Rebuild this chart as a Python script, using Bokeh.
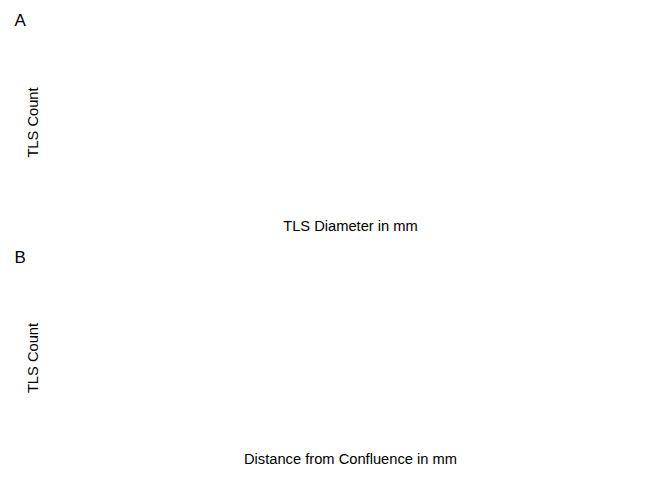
from bokeh.plotting import figure
from bokeh.layouts import column
from bokeh.models import ColumnDataSource, Range1d
from bokeh.embed import file_html
from bokeh.resources import INLINE

# Data: the reference panels show no marks, only titles and axis labels
panel_titles = ["A", "B"]
x_labels = ["TLS Diameter in mm", "Distance from Confluence in mm"]
y_labels = ["TLS Count", "TLS Count"]
tls_diameter_mm = []
tls_count_by_diameter = []
distance_from_confluence_mm = []
tls_count_by_distance = []

FONT = "Liberation Sans"

def make_panel(title, xlab, ylab, xs, ys, height, top, standoff):
    p = figure(width=672, height=height, output_backend="svg", toolbar_location=None,
               title=title, x_range=Range1d(0, 1), y_range=Range1d(0, 1),
               min_border_left=40, min_border_right=12, min_border_top=top, min_border_bottom=0)
    src = ColumnDataSource(dict(x=list(xs), top=list(ys), bottom=[0] * len(ys)))
    p.quad(left="x", right="x", top="top", bottom="bottom",
           source=src, fill_color="#595959", line_color=None)
    p.title.text_font = FONT
    p.title.text_font_style = "normal"
    p.title.text_font_size = "17px"
    p.title.text_color = "black"
    p.title.offset = -26
    p.title.standoff = standoff
    p.outline_line_color = None
    p.grid.visible = False
    p.background_fill_color = "white"
    p.border_fill_color = "white"
    for ax, lab in ((p.xaxis[0], xlab), (p.yaxis[0], ylab)):
        ax.axis_label = lab
        ax.axis_label_text_font = FONT
        ax.axis_label_text_font_style = "normal"
        ax.axis_label_text_font_size = "14.7px"
        ax.axis_label_text_color = "black"
        ax.ticker = []
        ax.major_label_text_font_size = "0px"
        ax.axis_line_color = None
        ax.major_tick_line_color = None
        ax.minor_tick_line_color = None
        ax.major_tick_out = 0
        ax.minor_tick_out = 0
        ax.major_label_standoff = 0
    p.xaxis[0].axis_label_standoff = 11
    p.yaxis[0].axis_label_standoff = 0
    return p

pa = make_panel(panel_titles[0], x_labels[0], y_labels[0], tls_diameter_mm, tls_count_by_diameter, 236, 5, 17)
pb = make_panel(panel_titles[1], x_labels[1], y_labels[1], distance_from_confluence_mm, tls_count_by_distance, 233, 0, 19)

layout = column(pa, pb, spacing=0)
open("out.html", "w").write(file_html(layout, INLINE))
